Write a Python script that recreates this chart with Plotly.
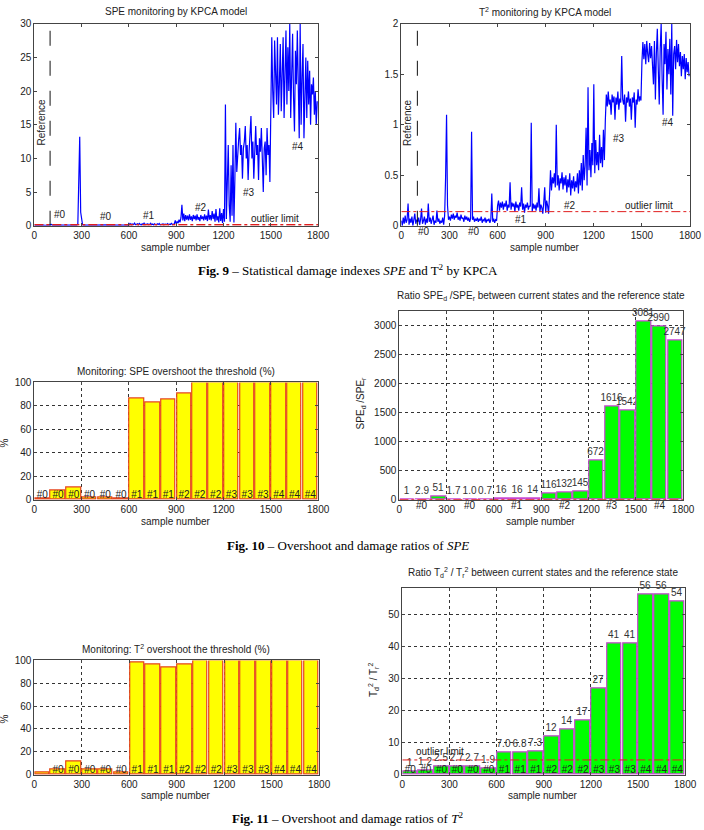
import plotly.graph_objects as go

W, H = 704, 830

# ---------------- data ----------------
SAMPLE_STEP = 6
spe_samples = list(range(0, 1800, SAMPLE_STEP))
spe_values = [
    0.10, 0.12, 0.08, 0.10, 0.15, 0.10, 0.09, 0.12, 0.10, 0.11,
    0.10, 0.08, 0.12, 0.10, 0.09, 0.10, 0.13, 0.10, 0.20, 0.10,
    0.10, 0.12, 0.10, 0.09, 0.11, 0.10, 0.14, 0.10, 0.08, 0.10,
    0.12, 0.10, 0.10, 0.11, 0.09, 0.10, 0.12, 0.10, 0.10, 0.09,
    0.10, 0.11, 0.10, 0.12, 0.10, 0.10, 0.30, 11.0, 13.2, 2.00,
    0.50, 0.15, 0.10, 0.12, 0.09, 0.10, 0.11, 0.10, 0.08, 0.10,
    0.11, 0.10, 0.09, 0.12, 0.10, 0.10, 0.11, 0.09, 0.10, 0.10,
    0.12, 0.10, 0.09, 0.10, 0.11, 0.10, 0.10, 0.12, 0.09, 0.10,
    0.10, 0.11, 0.10, 0.09, 0.12, 0.10, 0.10, 0.11, 0.10, 0.09,
    0.10, 0.12, 0.10, 0.10, 0.09, 0.11, 0.10, 0.10, 0.12, 0.10,
    0.35, 0.15, 0.30, 0.12, 0.25, 0.18, 0.40, 0.15, 0.22, 0.30,
    0.15, 0.35, 0.20, 0.12, 0.28, 0.18, 0.40, 0.15, 0.25, 0.20,
    0.30, 0.14, 0.22, 0.38, 0.16, 0.25, 0.12, 0.30, 0.20, 0.15,
    0.28, 0.18, 0.35, 0.14, 0.22, 0.20, 0.30, 0.12, 0.25, 0.18,
    0.20, 0.32, 0.15, 0.25, 0.18, 0.42, 0.15, 0.22, 0.30, 0.80,
    0.30, 0.60, 0.40, 0.90, 0.50, 1.20, 3.10, 0.80, 1.80, 0.70,
    1.60, 0.90, 1.50, 0.80, 1.70, 0.90, 1.40, 0.70, 1.60, 1.00,
    1.50, 0.80, 1.70, 0.90, 1.30, 0.70, 1.60, 1.00, 1.40, 0.80,
    1.70, 0.90, 1.50, 0.70, 2.40, 0.90, 1.60, 0.80, 2.20, 1.00,
    1.80, 0.60, 2.50, 0.80, 1.40, 0.50, 2.60, 0.70, 1.90, 0.40,
    2.50, 0.60, 18.0, 1.00, 5.00, 12.0, 3.00, 0.60, 9.00, 1.50,
    12.0, 0.50, 7.00, 15.3, 8.00, 11.5, 12.8, 14.5, 10.5, 12.0,
    7.00, 11.5, 12.5, 14.8, 10.0, 12.0, 6.80, 11.0, 13.0, 16.3,
    10.0, 12.5, 7.00, 11.5, 14.8, 10.5, 12.0, 6.80, 13.0, 11.0,
    14.5, 10.0, 5.00, 11.5, 12.5, 7.50, 14.5, 10.5, 12.0, 6.50,
    16.0, 28.0, 20.0, 16.0, 27.5, 22.0, 18.0, 28.0, 16.5, 21.0,
    27.0, 17.0, 24.0, 28.0, 16.0, 22.0, 29.0, 18.0, 26.5, 20.0,
    30.0, 16.0, 24.0, 28.5, 19.0, 14.0, 26.0, 21.0, 29.0, 17.5,
    13.0, 30.0, 15.0, 22.0, 27.0, 13.0, 20.0, 25.0, 16.0, 24.5,
    18.0, 23.0, 15.0, 21.0, 19.5, 22.0, 16.5, 20.0, 15.0, 18.5,
]
t2_samples = list(range(0, 1800, SAMPLE_STEP))
t2_values = [
    0.05, 0.00, 0.08, 0.02, 0.10, 0.03, 0.06, 0.22, 0.01, 0.07,
    0.03, 0.09, 0.00, 0.05, 0.12, 0.02, 0.06, 0.04, 0.08, 0.01,
    0.06, 0.17, 0.02, 0.05, 0.09, 0.01, 0.07, 0.03, 0.22, 0.04,
    0.08, 0.02, 0.06, 0.10, 0.01, 0.05, 0.03, 0.15, 0.04, 0.07,
    0.02, 0.05, 0.03, 0.08, 0.01, 0.10, 0.48, 1.10, 0.20, 0.06,
    0.09, 0.05, 0.11, 0.07, 0.12, 0.06, 0.10, 0.08, 0.13, 0.06,
    0.09, 0.05, 0.11, 0.07, 0.08, 0.04, 0.10, 0.06, 0.09, 0.05,
    0.08, 0.04, 0.07, 0.93, 0.06, 0.09, 0.04, 0.07, 0.05, 0.08,
    0.04, 0.07, 0.05, 0.09, 0.03, 0.06, 0.05, 0.08, 0.03, 0.06,
    0.05, 0.07, 0.03, 0.06, 0.32, 0.04, 0.07, 0.03, 0.06, 0.05,
    0.20, 0.25, 0.15, 0.23, 0.18, 0.24, 0.16, 0.22, 0.19, 0.25,
    0.15, 0.21, 0.18, 0.43, 0.16, 0.23, 0.19, 0.22, 0.14, 0.24,
    0.18, 0.21, 0.15, 0.23, 0.19, 0.38, 0.16, 0.22, 0.13, 0.21,
    0.18, 0.23, 0.16, 0.20, 0.19, 1.02, 0.14, 0.22, 0.17, 0.21,
    0.15, 0.23, 0.18, 0.37, 0.14, 0.21, 0.18, 0.12, 0.23, 0.38,
    0.13, 0.25, 0.20, 0.12, 0.30, 0.55, 0.35, 0.48, 0.42, 0.52,
    0.38, 1.00, 0.40, 0.50, 0.35, 0.47, 0.42, 0.53, 0.36, 0.48,
    0.40, 0.50, 0.33, 0.46, 0.38, 0.52, 0.30, 0.45, 0.37, 0.49,
    0.34, 0.44, 0.38, 0.52, 0.32, 0.55, 0.40, 0.62, 0.35, 0.70,
    0.45, 0.60, 0.97, 0.40, 1.37, 0.55, 0.75, 0.48, 0.82, 0.60,
    1.40, 0.52, 0.85, 0.60, 0.73, 0.55, 0.90, 0.62, 0.78, 0.58,
    0.95, 0.65, 1.05, 1.30, 1.18, 1.33, 1.20, 1.25, 1.10, 1.30,
    1.22, 1.28, 1.05, 1.27, 1.20, 1.33, 1.15, 1.26, 1.22, 1.68,
    1.25, 1.20, 1.30, 1.03, 1.27, 1.22, 1.33, 1.18, 1.26, 1.05,
    1.27, 1.22, 1.32, 0.97, 1.25, 1.20, 1.35, 1.23, 1.28, 1.24,
    1.62, 1.82, 1.65, 1.80, 1.60, 1.83, 1.70, 1.62, 1.81, 1.66,
    1.78, 1.62, 1.40, 1.83, 1.25, 1.70, 1.95, 1.55, 1.20, 1.75,
    2.00, 1.45, 1.10, 1.80, 1.60, 1.92, 1.35, 1.75, 1.50, 1.85,
    1.30, 2.00, 1.09, 1.70, 1.78, 1.55, 1.84, 1.62, 1.80, 1.58,
    1.72, 1.48, 1.68, 1.55, 1.70, 1.45, 1.66, 1.52, 1.62, 1.48,
]
REFERENCE_END = 100
SPE_LIMIT = 0.15
T2_LIMIT = 0.14
T2_RATIO_LIMIT = 4.6
SPE_RATIO_LIMIT = 4.6

bar_centers = [50, 150, 250, 350, 450, 550, 650, 750, 850, 950,
               1050, 1150, 1250, 1350, 1450, 1550, 1650, 1750]
state_labels = ["#0", "#0", "#0", "#0", "#0", "#0", "#1", "#1", "#1",
                "#2", "#2", "#2", "#3", "#3", "#3", "#4", "#4", "#4"]
t2_over_labels = [""] + state_labels[1:]
spe_overshoot = [1, 7.6, 10.7, 2.2, 2.2, 1, 86, 83, 85.4, 90.7,
                 100, 100, 100, 100, 100, 100, 100, 100]
t2_overshoot = [2.3, 4.9, 11.5, 5, 5, 2.3, 98.3, 96.3, 94, 96.3,
                100, 100, 100, 100, 100, 100, 100, 100]
spe_ratio = [1, 2.9, 51, 1.7, 1.0, 0.7, 16, 16, 14, 116, 132, 145,
             672, 1616, 1542, 3081, 2990, 2747]
spe_ratio_text = ["1", "2.9", "51", "1.7", "1.0", "0.7", "16", "16", "14",
                  "116", "132", "145", "672", "1616", "1542", "3081", "2990", "2747"]
t2_ratio = [1, 1.2, 2.5, 2.7, 2.7, 1.9, 7.0, 6.8, 7.3, 12, 14, 17,
            27, 41, 41, 56, 56, 54]
t2_ratio_text = ["1", "1.2", "2.5", "2.7", "2.7", "1.9", "7.0", "6.8", "7.3",
                 "12", "14", "17", "27", "41", "41", "56", "56", "54"]
group_label_pos = [145, 445, 745, 1050, 1350, 1650]
group_labels = ["#0", "#0", "#1", "#2", "#3", "#4"]
x_ticks = [0, 300, 600, 900, 1200, 1500, 1800]

# ---------------- styling helpers ----------------
SANS = "Liberation Sans, Arial, sans-serif"
SERIF = "Liberation Serif, Times New Roman, serif"
TXT = "#222"


def dx(l, r):
    return [l / W, r / W]


def dy(t, b):
    return [1 - b / H, 1 - t / H]


def axis(domain, rng, tickvals=None, dtick=None, anchor=None, grid=False):
    d = dict(domain=domain, range=rng, showline=True, linecolor="#444", linewidth=1,
             mirror="ticks", ticks="inside", ticklen=3, tickcolor="#444",
             tickfont=dict(family=SANS, size=10, color=TXT), zeroline=False,
             showgrid=grid, anchor=anchor, fixedrange=True)
    if grid:
        d.update(gridcolor="#333", griddash="dot", gridwidth=1)
    if tickvals is not None:
        d.update(tickmode="array", tickvals=tickvals)
    if dtick is not None:
        d.update(tick0=0, dtick=dtick)
    return d


fig = go.Figure()

BLUE = "rgb(0,0,255)"
RED = "rgb(225,30,30)"

# 1: SPE time series
fig.add_trace(go.Scatter(x=spe_samples, y=spe_values, mode="lines",
                         line=dict(color=BLUE, width=1.2), xaxis="x", yaxis="y"))
fig.add_trace(go.Scatter(x=[0, 1800], y=[SPE_LIMIT, SPE_LIMIT], mode="lines",
                         line=dict(color=RED, width=1.5, dash="dashdot"), xaxis="x", yaxis="y"))
# 2: T2 time series
fig.add_trace(go.Scatter(x=t2_samples, y=t2_values, mode="lines",
                         line=dict(color=BLUE, width=1.2), xaxis="x2", yaxis="y2"))
fig.add_trace(go.Scatter(x=[0, 1800], y=[T2_LIMIT, T2_LIMIT], mode="lines",
                         line=dict(color=RED, width=1, dash="dashdot"), xaxis="x2", yaxis="y2"))

YEL = "rgb(255,255,0)"
YEL_EDGE = "rgb(230,70,30)"
GRN = "rgb(0,255,0)"
GRN_EDGE = "rgb(200,70,210)"
BAR_TXT = dict(family=SANS, size=10, color="#333")

# 3: SPE overshoot
fig.add_trace(go.Bar(x=bar_centers, y=spe_overshoot, width=92,
                     marker=dict(color=YEL, line=dict(color=YEL_EDGE, width=1.2)),
                     xaxis="x3", yaxis="y3"))
fig.add_trace(go.Scatter(x=bar_centers, y=[4] * len(bar_centers), mode="text",
                         text=state_labels, textfont=dict(family=SANS, size=10, color=TXT),
                         xaxis="x3", yaxis="y3", cliponaxis=False))
# 4: SPE ratio
fig.add_trace(go.Bar(x=bar_centers, y=spe_ratio, width=92, text=spe_ratio_text,
                     textposition="outside", constraintext="none", cliponaxis=False,
                     textfont=BAR_TXT,
                     marker=dict(color=GRN, line=dict(color=GRN_EDGE, width=1.2)),
                     xaxis="x4", yaxis="y4"))
fig.add_trace(go.Scatter(x=[0, 1800], y=[SPE_RATIO_LIMIT, SPE_RATIO_LIMIT], mode="lines",
                         line=dict(color=RED, width=1, dash="dashdot"), xaxis="x4", yaxis="y4"))
# 5: T2 overshoot
fig.add_trace(go.Bar(x=bar_centers, y=t2_overshoot, width=92,
                     marker=dict(color=YEL, line=dict(color=YEL_EDGE, width=1.2)),
                     xaxis="x5", yaxis="y5"))
fig.add_trace(go.Scatter(x=bar_centers, y=[4] * len(bar_centers), mode="text",
                         text=t2_over_labels, textfont=dict(family=SANS, size=10, color=TXT),
                         xaxis="x5", yaxis="y5", cliponaxis=False))
# 6: T2 ratio
fig.add_trace(go.Bar(x=bar_centers, y=t2_ratio, width=92, text=t2_ratio_text,
                     textposition="outside", constraintext="none", cliponaxis=False,
                     textfont=BAR_TXT,
                     marker=dict(color=GRN, line=dict(color=GRN_EDGE, width=1.2)),
                     xaxis="x6", yaxis="y6"))
fig.add_trace(go.Scatter(x=[0, 1800], y=[T2_RATIO_LIMIT, T2_RATIO_LIMIT], mode="lines",
                         line=dict(color=RED, width=1, dash="dashdot"), xaxis="x6", yaxis="y6"))
fig.add_trace(go.Scatter(x=bar_centers, y=[1.3] * len(bar_centers), mode="text",
                         text=state_labels, textfont=dict(family=SANS, size=10, color=TXT),
                         xaxis="x6", yaxis="y6", cliponaxis=False))

fig.update_traces(showlegend=False, hoverinfo="skip")

layout = dict(
    width=W, height=H, margin=dict(l=0, r=0, t=0, b=0),
    paper_bgcolor="white", plot_bgcolor="white", showlegend=False, bargap=0,
    xaxis=axis(dx(32, 322), [0, 1800], x_ticks, anchor="y"),
    yaxis=axis(dy(18, 223), [0, 30], dtick=5, anchor="x"),
    xaxis2=axis(dx(407, 702), [0, 1800], x_ticks, anchor="y2"),
    yaxis2=axis(dy(18, 223), [0, 2], dtick=0.5, anchor="x2"),
    xaxis3=axis(dx(32, 322), [0, 1800], x_ticks, anchor="y3", grid=True),
    yaxis3=axis(dy(382, 501), [0, 100], dtick=20, anchor="x3", grid=True),
    xaxis4=axis(dx(405, 695), [0, 1800], x_ticks, anchor="y4", grid=True),
    yaxis4=axis(dy(309, 501), [0, 3266], dtick=500, anchor="x4", grid=True),
    xaxis5=axis(dx(32, 323), [0, 1800], x_ticks, anchor="y5", grid=True),
    yaxis5=axis(dy(664, 780), [0, 100], dtick=20, anchor="x5", grid=True),
    xaxis6=axis(dx(408, 697), [0, 1800], x_ticks, anchor="y6", grid=True),
    yaxis6=axis(dy(591, 780), [0, 58], dtick=10, anchor="x6", grid=True),
)
fig.update_layout(**layout)

# reference dashed lines
for xr, yr in [("x", "y domain"), ("x2", "y2 domain")]:
    fig.add_shape(type="line", xref=xr, yref=yr, x0=REFERENCE_END, x1=REFERENCE_END,
                  y0=0, y1=1, line=dict(color="#111", width=1, dash="longdash"))

ann = []


def pann(text, x, y, size=10, angle=0, family=SANS, color=TXT):
    ann.append(dict(text=text, x=x / W, y=1 - y / H, xref="paper", yref="paper",
                    showarrow=False, xanchor="center", yanchor="middle",
                    textangle=angle, font=dict(family=family, size=size, color=color)))


def dann(text, x, y, xr, yr, size=10, angle=0, color=TXT):
    ann.append(dict(text=text, x=x, y=y, xref=xr, yref=yr, showarrow=False,
                    xanchor="center", yanchor="middle", textangle=angle,
                    font=dict(family=SANS, size=size, color=color)))


# titles
pann("SPE monitoring by KPCA model", 177, 6)
pann("T<sup>2</sup> monitoring by KPCA model", 554, 6)
pann("Monitoring: SPE overshoot the threshold (%)", 177, 371)
pann("Ratio SPE<sub>d</sub> /SPE<sub>r</sub> between current states and the reference state", 550, 294)
pann("Monitoring: T<sup>2</sup> overshoot the threshold (%)", 177, 652)
pann("Ratio T<sub>d</sub><sup>2</sup> / T<sub>r</sub><sup>2</sup> between current states and the reference state", 552, 575)

# x labels
for cx, cy in [(177, 245), (554, 245), (177, 523), (550, 523), (177, 801), (552, 801)]:
    pann("sample number", cx, cy)

# y labels
pann("%", 2, 443, angle=-90)
pann("%", 2, 723, angle=-90)
pann("SPE<sub>d</sub> /SPE<sub>r</sub>", 366, 403, angle=-90)
pann("T<sub>d</sub><sup>2</sup> / T<sub>r</sub><sup>2</sup>", 378, 683, angle=-90)

# SPE time series texts
dann("Reference", 45, 15.4, "x", "y", angle=-90)
dann("#0", 165, 1.6, "x", "y")
dann("#0", 455, 1.4, "x", "y")
dann("#1", 727, 1.5, "x", "y")
dann("#2", 1056, 2.7, "x", "y")
dann("#3", 1364, 5.0, "x", "y")
dann("#4", 1675, 11.7, "x", "y")
dann("outlier limit", 1525, 1.1, "x", "y")

# T2 time series texts
dann("Reference", 43, 1.02, "x2", "y2", angle=-90)
dann("#1", 744, 0.06, "x2", "y2")
dann("#2", 1049, 0.2, "x2", "y2")
dann("#3", 1360, 0.86, "x2", "y2")
dann("#4", 1665, 1.02, "x2", "y2")
dann("outlier limit", 1545, 0.2, "x2", "y2")
for gx, gl in zip([140, 455], ["#0", "#0"]):
    ann.append(dict(text=gl, x=gx, y=1 - 229 / H, xref="x2", yref="paper", showarrow=False,
                    xanchor="center", yanchor="middle", font=dict(family=SANS, size=10, color=TXT)))

# SPE ratio group labels under axis
for gx, gl in zip(group_label_pos, group_labels):
    ann.append(dict(text=gl, x=gx, y=1 - 507 / H, xref="x4", yref="paper", showarrow=False,
                    xanchor="center", yanchor="middle", font=dict(family=SANS, size=10, color=TXT)))

# T2 ratio outlier label
dann("outlier limit", 240, 7.1, "x6", "y6")

# captions
pann("<b>Fig. 9</b> – Statistical damage indexes <i>SPE</i> and T<sup>2</sup> by KPCA", 352, 268,
     size=13, family=SERIF, color="#000")
pann("<b>Fig. 10</b> – Overshoot and damage ratios of <i>SPE</i>", 352, 547,
     size=13, family=SERIF, color="#000")
pann("<b>Fig. 11</b> – Overshoot and damage ratios of <i>T</i><sup>2</sup>", 352, 824,
     size=13, family=SERIF, color="#000")

fig.update_layout(annotations=ann)
fig.write_html("out.html")
